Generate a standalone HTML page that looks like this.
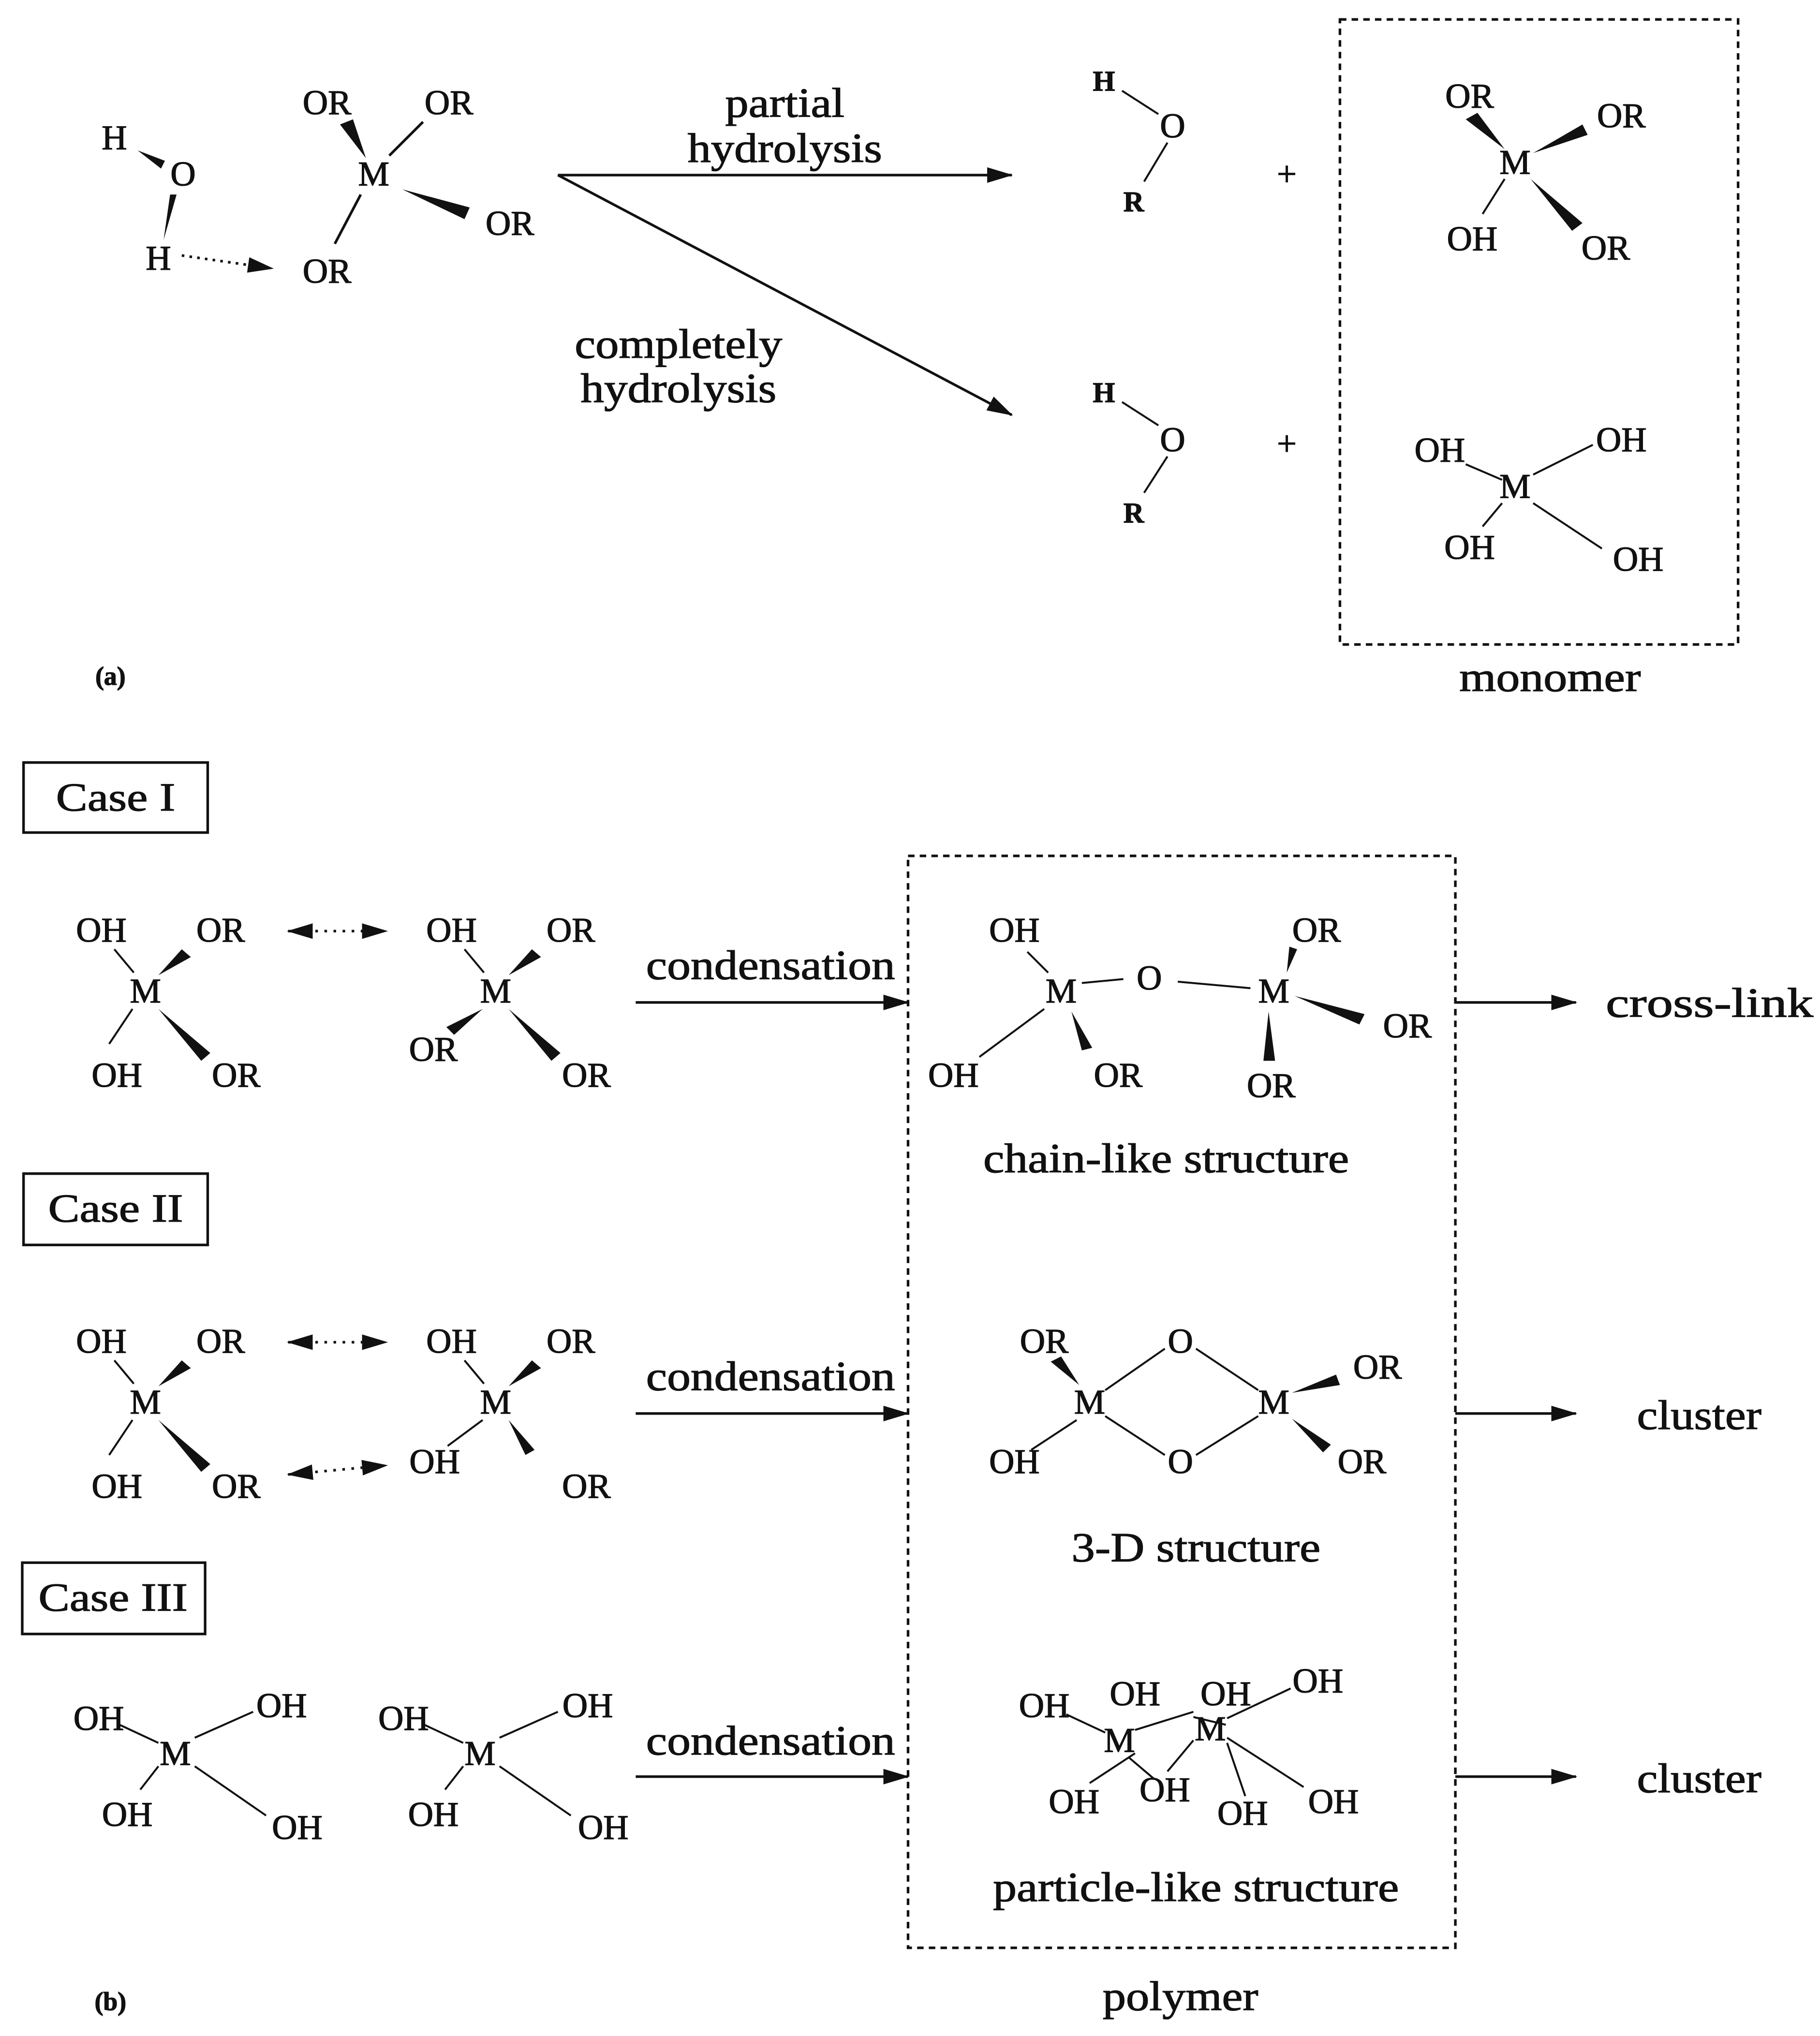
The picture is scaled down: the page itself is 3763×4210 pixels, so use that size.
<!DOCTYPE html>
<html><head><meta charset="utf-8"><style>
html,body{margin:0;padding:0;background:#fff;}
svg{display:block;}
text{font-family:"Liberation Serif",serif;fill:#111;stroke:#111;stroke-width:0.5;}
</style></head><body>
<svg width="3763" height="4210" viewBox="0 0 1403 1570" xmlns="http://www.w3.org/2000/svg">
<defs>
<marker id="a2" markerWidth="20" markerHeight="12" refX="19" refY="6" orient="auto" markerUnits="userSpaceOnUse"><path d="M0,0 L20,6 L0,12 z" fill="#111"/></marker>
<marker id="a2s" markerWidth="20" markerHeight="12" refX="1" refY="6" orient="auto" markerUnits="userSpaceOnUse"><path d="M20,0 L0,6 L20,12 z" fill="#111"/></marker>
</defs>
<g font-size="27" text-anchor="middle">
<!-- (a) -->
<text x="88" y="115">H</text><text x="141" y="143">O</text><text x="122" y="208">H</text>
<polygon points="106,116 127,124 124,130" fill="#111"/>
<polygon points="136,150 131,150 126,185" fill="#111"/>
<line x1="140" y1="197" x2="210" y2="207" stroke="#111" stroke-width="2" stroke-dasharray="2,4" marker-end="url(#a2)"/>
<text x="288" y="143">M</text>
<text x="252" y="88">OR</text><text x="346" y="88">OR</text><text x="393" y="181">OR</text><text x="252" y="218">OR</text>
<polygon points="262,96 272,92 282,122" fill="#111"/>
<line x1="300" y1="120" x2="326" y2="94" stroke="#111" stroke-width="2"/>
<polygon points="310,146 362,160 358,169" fill="#111"/>
<line x1="278" y1="150" x2="258" y2="188" stroke="#111" stroke-width="2"/>
<line x1="430" y1="135" x2="780" y2="135" stroke="#111" stroke-width="2" marker-end="url(#a2)"/>
<line x1="430" y1="135" x2="780" y2="320" stroke="#111" stroke-width="2" marker-end="url(#a2)"/>
<g font-size="32">
<text x="605" y="90" textLength="92" lengthAdjust="spacingAndGlyphs">partial</text><text x="605" y="125" textLength="150" lengthAdjust="spacingAndGlyphs">hydrolysis</text>
<text x="523" y="276" textLength="160" lengthAdjust="spacingAndGlyphs">completely</text><text x="523" y="310" textLength="151" lengthAdjust="spacingAndGlyphs">hydrolysis</text>
</g>
<g font-weight="bold" font-size="22"><text x="851" y="70">H</text><text x="874" y="163">R</text><text x="851" y="310">H</text><text x="874" y="403">R</text></g>
<text x="904" y="106">O</text><text x="904" y="348">O</text>
<line x1="865" y1="70" x2="893" y2="88" stroke="#111" stroke-width="1.5"/><line x1="900" y1="110" x2="882" y2="140" stroke="#111" stroke-width="1.5"/>
<line x1="865" y1="310" x2="893" y2="328" stroke="#111" stroke-width="1.5"/><line x1="900" y1="352" x2="882" y2="380" stroke="#111" stroke-width="1.5"/>
<text x="992" y="143">+</text><text x="992" y="351">+</text>
<rect x="1033" y="15" width="307" height="482" fill="none" stroke="#111" stroke-width="2" stroke-dasharray="5,4"/>
<text x="1195" y="533" font-size="32" textLength="140" lengthAdjust="spacingAndGlyphs">monomer</text>
<text x="1168" y="134">M</text>
<text x="1133" y="83">OR</text><text x="1250" y="98">OR</text><text x="1135" y="193">OH</text><text x="1238" y="200">OR</text>
<polygon points="1130,92 1139,87 1160,115" fill="#111"/>
<polygon points="1182,118 1220,96 1224,104" fill="#111"/>
<line x1="1160" y1="138" x2="1143" y2="165" stroke="#111" stroke-width="1.5"/>
<polygon points="1180,138 1220,172 1212,178" fill="#111"/>
<text x="1168" y="384">M</text>
<text x="1110" y="356">OH</text><text x="1250" y="348">OH</text><text x="1133" y="431">OH</text><text x="1263" y="440">OH</text>
<line x1="1130" y1="358" x2="1158" y2="370" stroke="#111" stroke-width="1.5"/>
<line x1="1182" y1="366" x2="1228" y2="343" stroke="#111" stroke-width="1.5"/>
<line x1="1158" y1="388" x2="1143" y2="406" stroke="#111" stroke-width="1.5"/>
<line x1="1182" y1="388" x2="1235" y2="423" stroke="#111" stroke-width="1.5"/>
<text x="85" y="528" font-size="20" font-weight="bold">(a)</text>

<!-- (b) -->
<g font-size="31">
<rect x="18" y="588" width="142" height="54" fill="none" stroke="#111" stroke-width="2"/><text x="89" y="625" textLength="92" lengthAdjust="spacingAndGlyphs">Case I</text>
<rect x="18" y="905" width="142" height="55" fill="none" stroke="#111" stroke-width="2"/><text x="89" y="942" textLength="104" lengthAdjust="spacingAndGlyphs">Case II</text>
<rect x="17" y="1205" width="141" height="55" fill="none" stroke="#111" stroke-width="2"/><text x="87" y="1242" textLength="115" lengthAdjust="spacingAndGlyphs">Case III</text>
</g>

<!-- row1 -->
<text x="78" y="726">OH</text><text x="170" y="726">OR</text><text x="112" y="773">M</text><text x="90" y="838">OH</text><text x="182" y="838">OR</text>
<line x1="88" y1="732" x2="103" y2="750" stroke="#111" stroke-width="1.5"/>
<polygon points="122,752 140,732 147,738" fill="#111"/>
<line x1="102" y1="778" x2="84" y2="805" stroke="#111" stroke-width="1.5"/>
<polygon points="122,778 162,812 155,818" fill="#111"/>
<line x1="222" y1="718" x2="298" y2="718" stroke="#111" stroke-width="2" stroke-dasharray="2,5" marker-end="url(#a2)" marker-start="url(#a2s)"/>
<text x="348" y="726">OH</text><text x="440" y="726">OR</text><text x="382" y="773">M</text><text x="334" y="818">OR</text><text x="452" y="838">OR</text>
<line x1="358" y1="732" x2="373" y2="750" stroke="#111" stroke-width="1.5"/>
<polygon points="392,752 410,732 417,738" fill="#111"/>
<polygon points="372,778 350,798 344,792" fill="#111"/>
<polygon points="392,778 432,812 425,818" fill="#111"/>
<line x1="490" y1="773" x2="700" y2="773" stroke="#111" stroke-width="2" marker-end="url(#a2)"/>
<text x="594" y="755" font-size="32" textLength="192" lengthAdjust="spacingAndGlyphs">condensation</text>
<rect x="700" y="660" width="422" height="842" fill="none" stroke="#111" stroke-width="2" stroke-dasharray="5,4"/>
<text x="910" y="1550" font-size="32" textLength="120" lengthAdjust="spacingAndGlyphs">polymer</text>
<text x="782" y="726">OH</text><text x="818" y="773">M</text><text x="886" y="763">O</text><text x="982" y="773">M</text>
<text x="1015" y="726">OR</text><text x="1085" y="800">OR</text><text x="735" y="838">OH</text><text x="862" y="838">OR</text><text x="980" y="846">OR</text>
<line x1="792" y1="734" x2="808" y2="750" stroke="#111" stroke-width="1.5"/>
<line x1="834" y1="758" x2="866" y2="755" stroke="#111" stroke-width="1.5"/>
<line x1="908" y1="757" x2="964" y2="762" stroke="#111" stroke-width="1.5"/>
<line x1="805" y1="778" x2="755" y2="815" stroke="#111" stroke-width="1.5"/>
<polygon points="826,780 842,808 834,810" fill="#111"/>
<polygon points="992,750 1000,732 994,730" fill="#111"/>
<polygon points="998,768 1052,782 1048,790" fill="#111"/>
<polygon points="978,780 974,818 983,818" fill="#111"/>
<text x="899" y="904" font-size="32" textLength="282" lengthAdjust="spacingAndGlyphs">chain-like structure</text>
<line x1="1122" y1="773" x2="1215" y2="773" stroke="#111" stroke-width="2" marker-end="url(#a2)"/>
<text x="1238" y="784" font-size="32" text-anchor="start" textLength="160" lengthAdjust="spacingAndGlyphs">cross-link</text>

<!-- row2 -->
<text x="78" y="1043">OH</text><text x="170" y="1043">OR</text><text x="112" y="1090">M</text><text x="90" y="1155">OH</text><text x="182" y="1155">OR</text>
<line x1="88" y1="1049" x2="103" y2="1067" stroke="#111" stroke-width="1.5"/>
<polygon points="122,1069 140,1049 147,1055" fill="#111"/>
<line x1="102" y1="1095" x2="84" y2="1122" stroke="#111" stroke-width="1.5"/>
<polygon points="122,1095 162,1129 155,1135" fill="#111"/>
<line x1="222" y1="1035" x2="298" y2="1035" stroke="#111" stroke-width="2" stroke-dasharray="2,5" marker-end="url(#a2)" marker-start="url(#a2s)"/>
<line x1="222" y1="1137" x2="298" y2="1130" stroke="#111" stroke-width="2" stroke-dasharray="2,5" marker-end="url(#a2)" marker-start="url(#a2s)"/>
<text x="348" y="1043">OH</text><text x="440" y="1043">OR</text><text x="382" y="1090">M</text><text x="335" y="1136">OH</text><text x="452" y="1155">OR</text>
<line x1="358" y1="1049" x2="373" y2="1067" stroke="#111" stroke-width="1.5"/>
<polygon points="392,1069 410,1049 417,1055" fill="#111"/>
<line x1="372" y1="1095" x2="345" y2="1115" stroke="#111" stroke-width="1.5"/>
<polygon points="392,1095 412,1118 405,1122" fill="#111"/>
<line x1="490" y1="1090" x2="700" y2="1090" stroke="#111" stroke-width="2" marker-end="url(#a2)"/>
<text x="594" y="1072" font-size="32" textLength="192" lengthAdjust="spacingAndGlyphs">condensation</text>
<text x="805" y="1043">OR</text><text x="910" y="1043">O</text><text x="1062" y="1063">OR</text><text x="840" y="1090">M</text><text x="982" y="1090">M</text>
<text x="782" y="1136">OH</text><text x="910" y="1136">O</text><text x="1050" y="1136">OR</text>
<polygon points="810,1050 818,1046 832,1068" fill="#111"/>
<line x1="852" y1="1072" x2="898" y2="1040" stroke="#111" stroke-width="1.5"/>
<line x1="922" y1="1040" x2="970" y2="1072" stroke="#111" stroke-width="1.5"/>
<line x1="852" y1="1092" x2="898" y2="1122" stroke="#111" stroke-width="1.5"/>
<line x1="922" y1="1122" x2="970" y2="1092" stroke="#111" stroke-width="1.5"/>
<line x1="830" y1="1095" x2="795" y2="1118" stroke="#111" stroke-width="1.5"/>
<polygon points="996,1074 1030,1060 1033,1068" fill="#111"/>
<polygon points="996,1094 1026,1114 1020,1120" fill="#111"/>
<text x="922" y="1204" font-size="32" textLength="192" lengthAdjust="spacingAndGlyphs">3-D structure</text>
<line x1="1122" y1="1090" x2="1215" y2="1090" stroke="#111" stroke-width="2" marker-end="url(#a2)"/>
<text x="1310" y="1102" font-size="32" textLength="96" lengthAdjust="spacingAndGlyphs">cluster</text>

<!-- row3 -->
<g stroke="#111" stroke-width="1.5">
<line x1="92" y1="1330" x2="122" y2="1344"/><line x1="150" y1="1340" x2="195" y2="1320"/><line x1="122" y1="1362" x2="108" y2="1380"/><line x1="150" y1="1362" x2="205" y2="1400"/>
<line x1="327" y1="1330" x2="357" y2="1344"/><line x1="385" y1="1340" x2="430" y2="1320"/><line x1="357" y1="1362" x2="343" y2="1380"/><line x1="385" y1="1362" x2="440" y2="1400"/>
<line x1="822" y1="1322" x2="852" y2="1336"/><line x1="875" y1="1334" x2="920" y2="1320"/><line x1="875" y1="1352" x2="840" y2="1375"/><line x1="870" y1="1355" x2="890" y2="1372"/>
<line x1="920" y1="1324" x2="945" y2="1330"/><line x1="946" y1="1325" x2="995" y2="1302"/><line x1="920" y1="1342" x2="900" y2="1366"/><line x1="946" y1="1344" x2="960" y2="1385"/><line x1="946" y1="1340" x2="1005" y2="1378"/>
</g>
<text x="76" y="1334">OH</text><text x="217" y="1324">OH</text><text x="135" y="1361">M</text><text x="98" y="1408">OH</text><text x="229" y="1418">OH</text>
<text x="311" y="1334">OH</text><text x="453" y="1324">OH</text><text x="370" y="1361">M</text><text x="334" y="1408">OH</text><text x="465" y="1418">OH</text>
<line x1="490" y1="1370" x2="700" y2="1370" stroke="#111" stroke-width="2" marker-end="url(#a2)"/>
<text x="594" y="1353" font-size="32" textLength="192" lengthAdjust="spacingAndGlyphs">condensation</text>
<text x="805" y="1324">OH</text><text x="875" y="1315">OH</text><text x="945" y="1315">OH</text><text x="1016" y="1305">OH</text>
<text x="863" y="1351">M</text><text x="933" y="1342">M</text>
<text x="828" y="1398">OH</text><text x="898" y="1389">OH</text><text x="958" y="1407">OH</text><text x="1028" y="1398">OH</text>
<text x="922" y="1466" font-size="32" textLength="313" lengthAdjust="spacingAndGlyphs">particle-like structure</text>
<line x1="1122" y1="1370" x2="1215" y2="1370" stroke="#111" stroke-width="2" marker-end="url(#a2)"/>
<text x="1310" y="1382" font-size="32" textLength="96" lengthAdjust="spacingAndGlyphs">cluster</text>
<text x="85" y="1550" font-size="20" font-weight="bold">(b)</text>
</g>
</svg>
</body></html>
